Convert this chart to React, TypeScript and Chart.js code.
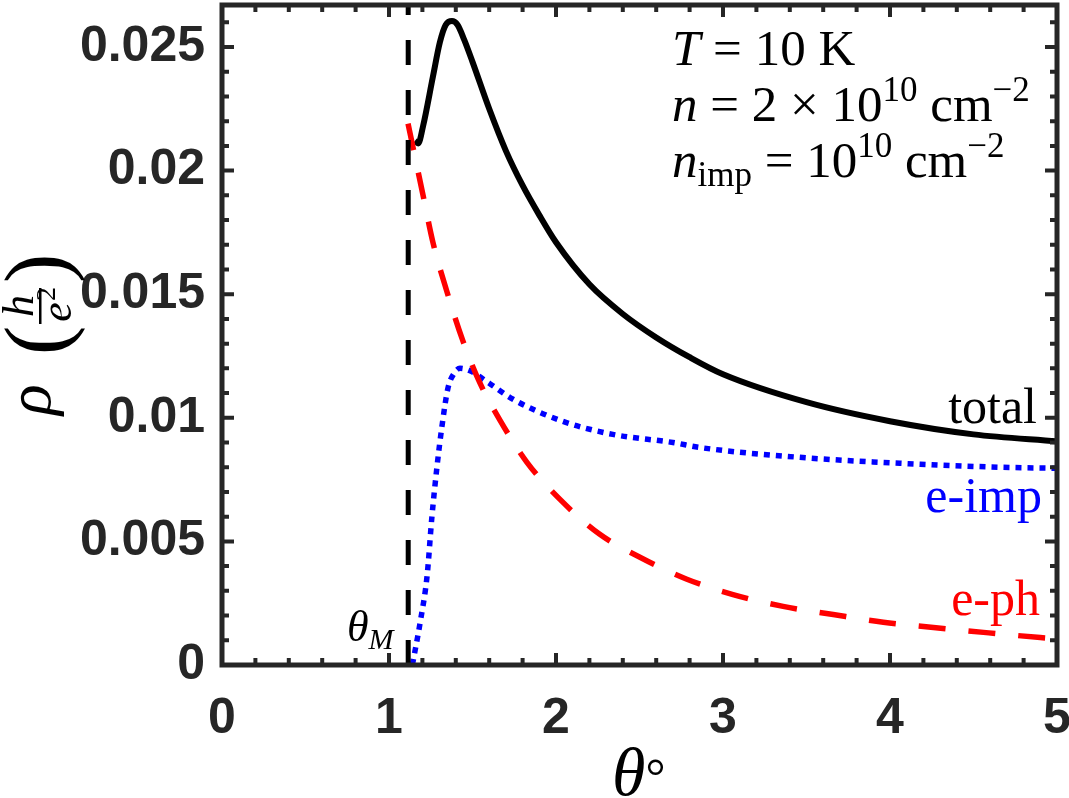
import React, { useEffect, useRef } from "react";
import { Chart, registerables } from "chart.js";

Chart.register(...registerables);

// ---------- data ----------
const totalTheta = [1.155, 1.175, 1.204, 1.263, 1.305, 1.34, 1.377, 1.41, 1.45, 1.5, 1.6, 1.7, 1.8, 1.9, 2.0, 2.2, 2.4, 2.6, 2.8, 3.0, 3.5, 4.0, 4.5, 5.0];
const totalRho = [0.0212, 0.0211, 0.0218, 0.0238, 0.0252, 0.0259, 0.02605, 0.0259, 0.0253, 0.0244, 0.0225, 0.0208, 0.0194, 0.0182, 0.0171, 0.0154, 0.0142, 0.01325, 0.01245, 0.01176, 0.01063, 0.00986, 0.00933, 0.00905];

const ephTheta = [1.114, 1.204, 1.263, 1.347, 1.443, 1.545, 1.665, 1.826, 2.024, 2.26, 2.52, 2.78, 3.06, 3.36, 3.66, 3.96, 4.26, 4.56, 4.9, 5.0];
const ephRho = [0.0219, 0.019, 0.0171, 0.0151, 0.0131, 0.0114, 0.0099, 0.0082, 0.0067, 0.0053, 0.0043, 0.00348, 0.00285, 0.00237, 0.00204, 0.00173, 0.00152, 0.00132, 0.00111, 0.00106];

const eimpTheta = [1.14, 1.186, 1.228, 1.257, 1.287, 1.317, 1.353, 1.39, 1.425, 1.485, 1.6, 1.743, 2.04, 2.34, 2.7, 2.86, 3.46, 4.06, 4.66, 5.0];
const eimpRho = [0.0, 0.0017, 0.0036, 0.006, 0.008, 0.00965, 0.0112, 0.0118, 0.012, 0.0119, 0.0114, 0.01075, 0.00986, 0.00933, 0.009, 0.0088, 0.0084, 0.00816, 0.008, 0.00796];

const thetaM = 1.115;
const xTicks = [0, 1, 2, 3, 4, 5];
const yTicks = [0, 0.005, 0.01, 0.015, 0.02, 0.025];
const xRange = [0, 5];
const yRange = [0, 0.0267];

const seriesLabels = ["total", "e-imp", "e-ph"];

// ---------- styles ----------
const SERIF = "'Liberation Serif', 'Times New Roman', serif";
const SANS = "'Liberation Sans', Arial, Helvetica, sans-serif";
const AX = "#262626";

const zip = (xs: number[], ys: number[]) => xs.map((x, i) => ({ x, y: ys[i] }));

type Run = { t: string; f: string; dy?: number };
function drawRuns(ctx: CanvasRenderingContext2D, x: number, y: number, runs: Run[]) {
  let cx = x;
  for (const r of runs) {
    ctx.font = r.f;
    ctx.fillText(r.t, cx, y - (r.dy || 0));
    cx += ctx.measureText(r.t).width;
  }
}

const framePlugin = {
  id: "frameTicks",
  afterDraw(chart: any) {
    const ctx: CanvasRenderingContext2D = chart.ctx;
    const { left, right, top, bottom } = chart.chartArea;
    const xs = chart.scales.x;
    const ys = chart.scales.y;
    ctx.save();
    ctx.strokeStyle = AX;
    ctx.lineCap = "butt";
    ctx.lineWidth = 4;
    for (let i = 0; i <= 25; i++) {
      const v = i * 0.2;
      const px = xs.getPixelForValue(v);
      const len = i % 5 === 0 ? 12 : 7;
      ctx.beginPath();
      ctx.moveTo(px, bottom);
      ctx.lineTo(px, bottom - len);
      ctx.moveTo(px, top);
      ctx.lineTo(px, top + len);
      ctx.stroke();
    }
    for (let i = 0; i <= 26; i++) {
      const v = i * 0.001;
      const py = ys.getPixelForValue(v);
      if (py < top) continue;
      const len = i % 5 === 0 ? 12 : 7;
      ctx.beginPath();
      ctx.moveTo(left, py);
      ctx.lineTo(left + len, py);
      ctx.moveTo(right, py);
      ctx.lineTo(right - len, py);
      ctx.stroke();
    }
    ctx.lineWidth = 5;
    ctx.strokeRect(left, top, right - left, bottom - top);

    // annotation block
    ctx.fillStyle = "#000";
    ctx.textAlign = "left";
    ctx.textBaseline = "alphabetic";
    const m = `51px ${SERIF}`;
    const it = `italic 51px ${SERIF}`;
    const sp = `35px ${SERIF}`;
    const ax0 = 672;
    drawRuns(ctx, ax0, 65, [
      { t: "T", f: it },
      { t: " = 10 K", f: m },
    ]);
    drawRuns(ctx, ax0, 121, [
      { t: "n", f: it },
      { t: " = 2 × 10", f: m },
      { t: "10", f: sp, dy: 20 },
      { t: " cm", f: m },
      { t: "−2", f: sp, dy: 20 },
    ]);
    drawRuns(ctx, ax0, 177, [
      { t: "n", f: it },
      { t: "imp", f: sp, dy: -9 },
      { t: " = 10", f: m },
      { t: "10", f: sp, dy: 20 },
      { t: " cm", f: m },
      { t: "−2", f: sp, dy: 20 },
    ]);

    // series labels
    ctx.textAlign = "right";
    ctx.font = `50px ${SERIF}`;
    ctx.fillStyle = "#000";
    ctx.fillText(seriesLabels[0], 1037, 423);
    ctx.fillStyle = "#0000ff";
    ctx.fillText(seriesLabels[1], 1042, 512);
    ctx.fillStyle = "#ff0000";
    ctx.fillText(seriesLabels[2], 1040, 615);

    // theta_M
    ctx.textAlign = "left";
    ctx.fillStyle = "#000";
    drawRuns(ctx, 347, 641, [
      { t: "θ", f: `italic 44px ${SERIF}` },
      { t: "M", f: `italic 30px ${SERIF}`, dy: -8 },
    ]);

    // x title
    drawRuns(ctx, 612, 795, [
      { t: "θ", f: `italic 68px ${SERIF}` },
      { t: "°", f: `50px ${SERIF}`, dy: 2 },
    ]);

    // y title (rotated)
    ctx.save();
    ctx.translate(50, 415);
    ctx.rotate(-Math.PI / 2);
    ctx.textAlign = "left";
    ctx.font = `italic 64px ${SERIF}`;
    ctx.fillText("ρ", 0, 0);
    ctx.font = `88px ${SERIF}`;
    ctx.fillText("(", 60, 16);
    ctx.fillText(")", 132, 16);
    ctx.textAlign = "center";
    ctx.font = `italic 44px ${SERIF}`;
    ctx.fillText("h", 109, -17);
    ctx.fillText("e", 103, 21);
    ctx.font = `28px ${SERIF}`;
    ctx.fillText("2", 121, 5);
    ctx.fillRect(91, -11, 36, 2.5);
    ctx.restore();

    ctx.restore();
  },
};

export default function App() {
  const ref = useRef<HTMLCanvasElement | null>(null);
  useEffect(() => {
    if (!ref.current) return;
    const chart = new Chart(ref.current, {
      type: "scatter",
      data: {
        datasets: [
          {
            label: "θM",
            data: [
              { x: thetaM, y: yRange[0] },
              { x: thetaM, y: yRange[1] },
            ],
            showLine: true,
            borderColor: "#000",
            borderWidth: 5,
            borderDash: [25, 25],
            pointRadius: 0,
          },
          {
            label: seriesLabels[2],
            data: zip(ephTheta, ephRho),
            showLine: true,
            borderColor: "#ff0000",
            borderWidth: 5.5,
            borderDash: [27, 23],
            pointRadius: 0,
            cubicInterpolationMode: "monotone",
          },
          {
            label: seriesLabels[1],
            data: zip(eimpTheta, eimpRho),
            showLine: true,
            borderColor: "#0000ff",
            borderWidth: 5.5,
            borderDash: [6, 6],
            pointRadius: 0,
            cubicInterpolationMode: "monotone",
          },
          {
            label: seriesLabels[0],
            data: zip(totalTheta, totalRho),
            showLine: true,
            borderColor: "#000",
            borderWidth: 6,
            pointRadius: 0,
            cubicInterpolationMode: "monotone",
          },
        ],
      },
      options: {
        animation: false,
        responsive: false,
        devicePixelRatio: 1,
        layout: { padding: { top: 5, right: 12, left: 0, bottom: 0 } },
        plugins: { legend: { display: false }, tooltip: { enabled: false } },
        scales: {
          x: {
            type: "linear",
            min: xRange[0],
            max: xRange[1],
            afterFit: (s: any) => {
              s.height = 133;
              s.paddingLeft = 0;
              s.paddingRight = 0;
            },
            afterBuildTicks: (s: any) => {
              s.ticks = xTicks.map((v) => ({ value: v }));
            },
            grid: { display: false, drawTicks: false },
            border: { display: false },
            ticks: {
              padding: 24,
              color: AX,
              font: { family: SANS, size: 50, weight: "bold" },
              callback: (v: any) => String(v),
            },
          },
          y: {
            type: "linear",
            min: yRange[0],
            max: yRange[1],
            afterFit: (s: any) => {
              s.width = 222;
              s.paddingTop = 0;
              s.paddingBottom = 0;
            },
            afterBuildTicks: (s: any) => {
              s.ticks = yTicks.map((v) => ({ value: v }));
            },
            grid: { display: false, drawTicks: false },
            border: { display: false },
            ticks: {
              padding: 17,
              color: AX,
              font: { family: SANS, size: 50, weight: "bold" },
              callback: (v: any) => String(parseFloat(Number(v).toFixed(4))),
            },
          },
        },
      },
      plugins: [framePlugin],
    } as any);
    return () => chart.destroy();
  }, []);
  return (
    <div style={{ position: "fixed", left: 0, top: 0, width: 1069, height: 798, background: "#fff" }}>
      <canvas ref={ref} width={1069} height={798} style={{ width: 1069, height: 798, display: "block" }} />
    </div>
  );
}
